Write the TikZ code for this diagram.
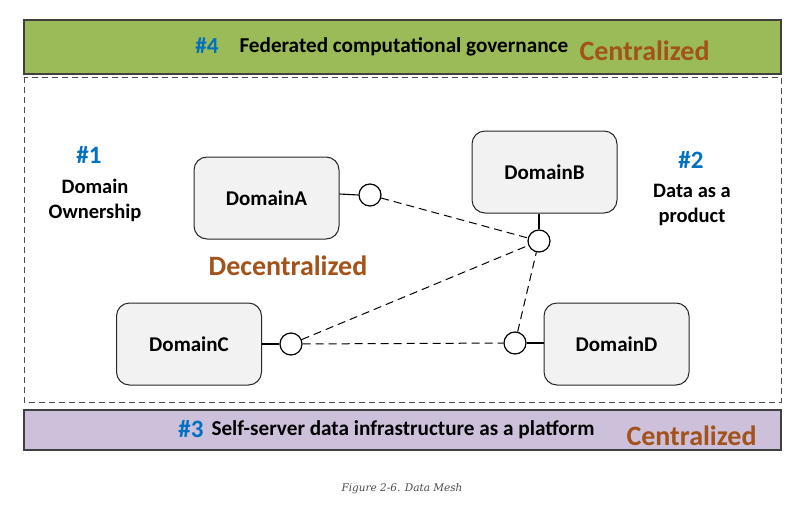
\documentclass[tikz,border=0pt]{standalone}
\usepackage{fontspec}
\usetikzlibrary{shapes.geometric}
\setmainfont{Carlito}
\newfontfamily\capfont{DejaVu Serif}
\definecolor{gbar}{HTML}{9BBB59}
\definecolor{pbar}{HTML}{CCC0DA}
\definecolor{hblue}{HTML}{0070C0}
\definecolor{hbrown}{HTML}{A3521A}
\definecolor{boxfill}{HTML}{F2F2F2}
\begin{document}
\begin{tikzpicture}[x=1pt,y=-1pt,
  dom/.style={draw=black!85,fill=boxfill,rounded corners=13pt,line width=1pt,minimum width=145pt,minimum height=82pt,font=\bfseries\fontsize{21}{24}\selectfont},
  port/.style={draw=black,line width=1.2pt,ellipse,minimum width=22pt,minimum height=22pt,inner sep=0pt},
  link/.style={dashed,dash pattern=on 8pt off 5pt,line width=1pt},
  bar/.style={draw=black!75,line width=1.2pt},
  hnum/.style={text=hblue,font=\bfseries\fontsize{25}{27}\selectfont},
  lbl/.style={font=\bfseries\fontsize{20.5}{25}\selectfont,align=center},
  wide/.style={font=\bfseries\fontsize{21.2}{25}\selectfont},
  cen/.style={text=hbrown,font=\bfseries\fontsize{28}{30}\selectfont}
]
\useasboundingbox (0,0) rectangle (799,511);
\fill[white] (0,0) rectangle (799,511);
% top bar
\draw[bar,fill=gbar] (24,20) rectangle (781,74);
\node[hnum,font=\bfseries\fontsize{23}{25}\selectfont] (n4) at (207,46) {\#4};
\node[wide,anchor=west] (t4) at (236,47) {Federated computational governance};
\node[cen,anchor=west] (c4) at (576,51) {Centralized};
% dashed middle box
\draw[dashed,dash pattern=on 6pt off 4pt,line width=1pt,draw=black!70] (24,77) rectangle (781,402);
% bottom bar
\draw[bar,fill=pbar] (24,410) rectangle (781,450);
\node[hnum] (n3) at (191,429) {\#3};
\node[wide,anchor=west] (t3) at (208,430) {Self-server data infrastructure as a platform};
\node[cen,anchor=west] (c3) at (623,436) {Centralized};
% side labels
\node[hnum] (n1) at (89,155) {\#1};
\node[lbl] (l1) at (95,200) {Domain\\Ownership};
\node[hnum] (n2) at (691,160) {\#2};
\node[lbl] (l2) at (692,205) {Data as a\\product};
\node[cen] (dec) at (288,266) {Decentralized};
% domains
\node[dom] (A) at (266.5,198) {DomainA};
\node[dom] (B) at (544.5,172) {DomainB};
\node[dom] (C) at (189,344) {DomainC};
\node[dom] (D) at (616.5,344) {DomainD};
% ports
\node[port] (pA) at (370,195) {};
\node[port] (pB) at (539,241) {};
\node[port] (pC) at (291,344) {};
\node[port] (pD) at (515,343) {};
% stems
\draw[line width=1.1pt] (A.east |- pA.west) ++(0,-1) -- (pA.west);
\draw[line width=1.1pt] (pB.north) -- (pB.north |- B.south);
\draw[line width=1.1pt] (C.east |- pC.west) -- (pC.west);
\draw[line width=1.1pt] (pD.east) -- (pD.east -| D.west);
% links
\draw[link] (pA) -- (pB);
\draw[link] (pC) -- (pB);
\draw[link] (pD) -- (pB);
\draw[link] (pC) -- (pD);
% caption
\node[font=\capfont\itshape\fontsize{10.5}{13}\selectfont,text=black!70] (cap) at (402,489) {Figure 2-6. Data Mesh};
\end{tikzpicture}
\end{document}
